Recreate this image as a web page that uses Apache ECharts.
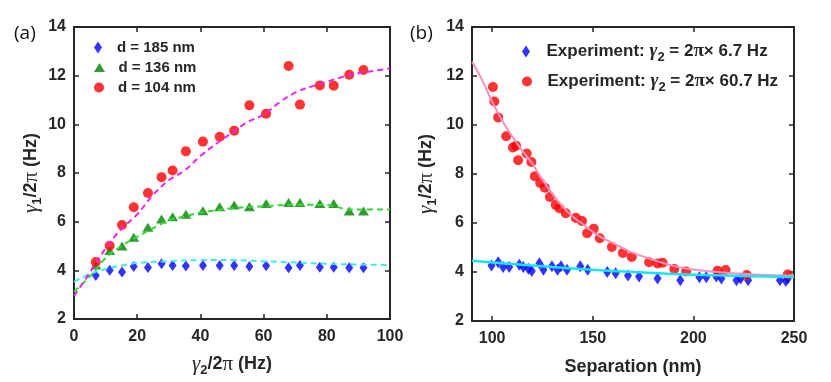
<!DOCTYPE html>
<html>
<head>
<meta charset="utf-8">
<script src="https://cdn.jsdelivr.net/npm/echarts@6/dist/echarts.min.js"></script>
<style>
html, body { margin: 0; padding: 0; background: #fff; }
#main { width: 831px; height: 382px; }
</style>
</head>
<body>
<div id="main"></div>
<script>
// (a) gamma1 against gamma2 for three separations
var gamma2 = [6.9, 11.3, 15.2, 18.9, 23.4, 27.7, 31.2, 35.4, 40.8, 46.1, 50.7, 55.5, 60.8, 67.9, 71.5, 77.8, 82.2, 87.1, 91.6];
var d185 = [3.79, 4.0, 3.93, 4.16, 4.12, 4.27, 4.2, 4.18, 4.2, 4.2, 4.2, 4.16, 4.19, 4.11, 4.2, 4.13, 4.13, 4.11, 4.11];
var d136 = [4.22, 4.81, 5.0, 5.36, 5.77, 6.11, 6.2, 6.3, 6.45, 6.61, 6.68, 6.61, 6.75, 6.79, 6.79, 6.75, 6.75, 6.44, 6.44];
var d104 = [4.34, 5.01, 5.86, 6.59, 7.18, 7.83, 8.1, 8.89, 9.29, 9.49, 9.74, 10.78, 10.44, 12.4, 10.81, 11.6, 11.59, 12.04, 12.23];

// fitted curves
var fit185 = [[0, 3.53], [5, 3.85], [10, 4.05], [15, 4.2], [20, 4.3], [30, 4.38], [40, 4.42], [50, 4.42], [60, 4.37], [70, 4.32], [80, 4.27], [90, 4.24], [100, 4.22]];
var fit136 = [[0, 3.12], [5, 3.75], [10, 4.5], [15, 5.0], [20, 5.38], [25, 5.73], [30, 6.05], [35, 6.22], [40, 6.37], [50, 6.55], [60, 6.63], [70, 6.7], [78, 6.7], [82, 6.65], [86, 6.52], [90, 6.5], [100, 6.5]];
var fit104 = [[0, 2.95], [5, 3.9], [10, 4.9], [15, 5.7], [20, 6.3], [25, 7.1], [30, 7.7], [35, 8.1], [40, 8.7], [45, 9.2], [50, 9.65], [55, 10.1], [60, 10.4], [65, 10.9], [70, 11.3], [75, 11.55], [80, 11.75], [85, 11.95], [90, 12.1], [95, 12.2], [100, 12.3]];

// (b) gamma1 against separation
var sepSlow = [99.7, 103, 105.5, 108.5, 113.5, 115.5, 118, 119.7, 123.5, 125.5, 129.7, 132.5, 134.2, 137.2, 143.8, 147.5, 157.2, 161.4, 167.5, 173, 182.2, 193.5, 203, 206.4, 211.4, 213.9, 221.4, 223.5, 227.2, 243, 245.9, 246.9];
var valSlow = [4.27, 4.4, 4.2, 4.2, 4.3, 4.2, 4.13, 4.04, 4.36, 4.09, 4.23, 4.09, 4.23, 4.09, 4.23, 4.09, 4.0, 3.95, 3.86, 3.82, 3.73, 3.66, 3.79, 3.79, 3.82, 3.73, 3.66, 3.73, 3.66, 3.66, 3.63, 3.73];
var sepFast = [100.4, 101.1, 103, 107, 110.3, 111.9, 112.9, 117.2, 119.5, 121.2, 123.9, 126.2, 128.7, 131.6, 133.4, 136.6, 141.6, 144.7, 147.2, 150.5, 153.5, 159.5, 165, 169.4, 178, 182.2, 184.7, 190.5, 196.4, 212, 216, 226.5, 246.9];
var valFast = [11.55, 10.96, 10.31, 9.54, 9.08, 9.15, 8.56, 8.84, 8.49, 7.91, 7.63, 7.44, 7.06, 6.74, 6.6, 6.4, 6.21, 6.08, 5.58, 5.77, 5.38, 5.02, 4.78, 4.61, 4.4, 4.35, 4.38, 4.12, 4.02, 4.05, 4.08, 3.88, 3.9];

var fitSlow = [[90, 4.46], [110, 4.33], [130, 4.2], [150, 4.09], [170, 4.0], [190, 3.92], [210, 3.87], [230, 3.83], [250, 3.8]];
var fitFast = [[90, 12.58], [95, 11.84], [100, 10.95], [105, 10.18], [110, 9.53], [115, 8.95], [120, 8.42], [125, 7.77], [130, 7.18], [135, 6.67], [140, 6.27], [145, 5.96], [150, 5.64], [155, 5.38], [160, 5.18], [165, 4.97], [170, 4.78], [180, 4.5], [190, 4.25], [200, 4.1], [210, 4.01], [220, 3.95], [230, 3.9], [240, 3.87], [250, 3.86]];

var sepTicks = [100, 150, 200, 250];

function zip(xs, ys) {
    return xs.map(function (x, i) { return [x, ys[i]]; });
}

var ink = '#262626';
var sans = 'Liberation Sans, Arial, sans-serif';
var serif = 'Liberation Serif, Times New Roman, serif';

var rich = {
    b: { fontFamily: sans, fontWeight: 'bold', fontSize: 18, color: ink },
    g: { fontFamily: serif, fontStyle: 'italic', fontSize: 21, color: ink },
    p: { fontFamily: serif, fontSize: 21, color: ink },
    s: { fontFamily: sans, fontWeight: 'bold', fontSize: 13, color: ink, padding: [12, 0, 0, 0] }
};
var legRich = {
    b: { fontFamily: sans, fontWeight: 'bold', fontSize: 17, color: ink },
    g: { fontFamily: serif, fontStyle: 'italic', fontSize: 19, color: ink },
    p: { fontFamily: serif, fontSize: 19, color: ink },
    s: { fontFamily: sans, fontWeight: 'bold', fontSize: 13, color: ink, padding: [12, 0, 0, 0] }
};

function frame(grid, pos, min, max, interval, labels) {
    return {
        gridIndex: grid, type: 'value', position: pos,
        min: min, max: max, interval: interval,
        axisLine: { show: true, onZero: false, lineStyle: { color: ink, width: 2 } },
        axisTick: { show: true, inside: true, length: 5, lineStyle: { color: ink, width: 1.5 } },
        axisLabel: { show: labels, color: ink, fontFamily: sans, fontWeight: 'bold', fontSize: 16, margin: 8 },
        splitLine: { show: false }
    };
}

var xa0 = frame(0, 'bottom', 0, 100, 20, true);
xa0.axisLabel.margin = 10;
xa0.name = '{g|γ}{s|2}{b|/2}{p|π}{b| (Hz)}';
xa0.nameLocation = 'middle';
xa0.nameGap = 33;
xa0.nameTextStyle = { rich: rich };
var xa1 = frame(0, 'top', 0, 100, 20, false);

var xa2 = frame(1, 'bottom', 90, 250, null, true);
xa2.axisLabel.margin = 10;
xa2.axisLabel.customValues = sepTicks;
xa2.axisTick.customValues = sepTicks;
xa2.name = 'Separation (nm)';
xa2.nameLocation = 'middle';
xa2.nameGap = 37;
xa2.nameTextStyle = { fontFamily: sans, fontWeight: 'bold', fontSize: 18, color: ink };
var xa3 = frame(1, 'top', 90, 250, null, false);
xa3.axisTick.customValues = sepTicks;

var ya0 = frame(0, 'left', 2, 14, 2, true);
ya0.name = '{g|γ}{s|1}{b|/2}{p|π}{b| (Hz)}';
ya0.nameLocation = 'middle';
ya0.nameGap = 30;
ya0.nameTextStyle = { rich: rich };
var ya1 = frame(0, 'right', 2, 14, 2, false);
var ya2 = frame(1, 'left', 2, 14, 2, true);
ya2.name = ya0.name;
ya2.nameLocation = 'middle';
ya2.nameGap = 33;
ya2.nameTextStyle = { rich: rich };
var ya3 = frame(1, 'right', 2, 14, 2, false);

var blue = '#0000ff', green = '#008000', red = '#ff0000';
var diamondIcon = 'path://M4,0L8,6L4,12L0,6Z';
var triIcon = 'path://M0,9L5.5,0L11,9Z';

function oneLegend(name, icon, h, left, top, width, size, fmt) {
    return {
        data: [{ name: name, icon: icon }],
        left: left, top: top, padding: 0,
        itemWidth: width, itemHeight: h, symbolKeepAspect: true,
        selectedMode: false,
        textStyle: { fontFamily: sans, fontWeight: 'bold', fontSize: size, color: ink, rich: legRich },
        formatter: fmt
    };
}

var nameA1 = 'd = 185 nm', nameA2 = 'd = 136 nm', nameA3 = 'd = 104 nm';
var nameB1 = 'Experiment: γ2 = 2π× 6.7 Hz', nameB2 = 'Experiment: γ2 = 2π× 60.7 Hz';
function expFmt(val) {
    return function () { return '{b|Experiment: }{g|γ}{s|2}{b| = 2}{p|π}{b|× ' + val + ' Hz}'; };
}

var option = {
    animation: false,
    backgroundColor: '#fff',
    grid: [
        { left: 74, top: 27, width: 316, height: 292 },
        { left: 472, top: 27, width: 322, height: 294 }
    ],
    xAxis: [xa0, xa1, xa2, xa3],
    yAxis: [ya0, ya1, ya2, ya3],
    legend: [
        oneLegend(nameA1, diamondIcon, 12, 94, 40, 28, 15),
        oneLegend(nameA2, triIcon, 9, 94, 60, 28, 15),
        oneLegend(nameA3, 'circle', 10, 94, 80, 28, 15),
        oneLegend(nameB1, diamondIcon, 12, 522, 42, 31, 17, expFmt('6.7')),
        oneLegend(nameB2, 'circle', 10, 522, 72, 31, 17, expFmt('60.7'))
    ],
    graphic: [
        { type: 'text', left: 14, top: 24, style: { text: '(a)', font: '19px "Open Sans"', fill: '#111' } },
        { type: 'text', left: 410, top: 24, style: { text: '(b)', font: '19px "Open Sans"', fill: '#111' } }
    ],
    series: [
        { name: nameA1, type: 'scatter', xAxisIndex: 0, yAxisIndex: 0, symbol: 'diamond', symbolSize: [8, 11], itemStyle: { color: blue }, data: zip(gamma2, d185) },
        { name: nameA2, type: 'scatter', xAxisIndex: 0, yAxisIndex: 0, symbol: 'triangle', symbolSize: [11, 9], itemStyle: { color: green }, data: zip(gamma2, d136) },
        { name: nameA3, type: 'scatter', xAxisIndex: 0, yAxisIndex: 0, symbol: 'circle', symbolSize: 10, itemStyle: { color: red }, data: zip(gamma2, d104) },
        { type: 'line', xAxisIndex: 0, yAxisIndex: 0, showSymbol: false, smooth: 0.4, silent: true, lineStyle: { color: '#3eeaf2', width: 2, type: [6, 4] }, data: fit185 },
        { type: 'line', xAxisIndex: 0, yAxisIndex: 0, showSymbol: false, smooth: 0.4, silent: true, lineStyle: { color: '#2fdc2f', width: 2, type: [6, 4] }, data: fit136 },
        { type: 'line', xAxisIndex: 0, yAxisIndex: 0, showSymbol: false, smooth: 0.4, silent: true, lineStyle: { color: '#f020f0', width: 2, type: [6, 4] }, data: fit104 },

        { name: nameB1, type: 'scatter', xAxisIndex: 2, yAxisIndex: 2, symbol: 'diamond', symbolSize: [8, 12], itemStyle: { color: blue }, data: zip(sepSlow, valSlow) },
        { name: nameB2, type: 'scatter', xAxisIndex: 2, yAxisIndex: 2, symbol: 'circle', symbolSize: 10, itemStyle: { color: red }, data: zip(sepFast, valFast) },
        { type: 'line', xAxisIndex: 2, yAxisIndex: 2, showSymbol: false, smooth: 0.4, silent: true, lineStyle: { color: '#f78fbf', width: 2 }, data: fitFast },
        { type: 'line', xAxisIndex: 2, yAxisIndex: 2, showSymbol: false, smooth: 0.4, silent: true, lineStyle: { color: '#12e8f5', width: 2.5 }, data: fitSlow }
    ]
};

var chart = echarts.init(document.getElementById('main'));
chart.setOption(option);
</script>
</body>
</html>
